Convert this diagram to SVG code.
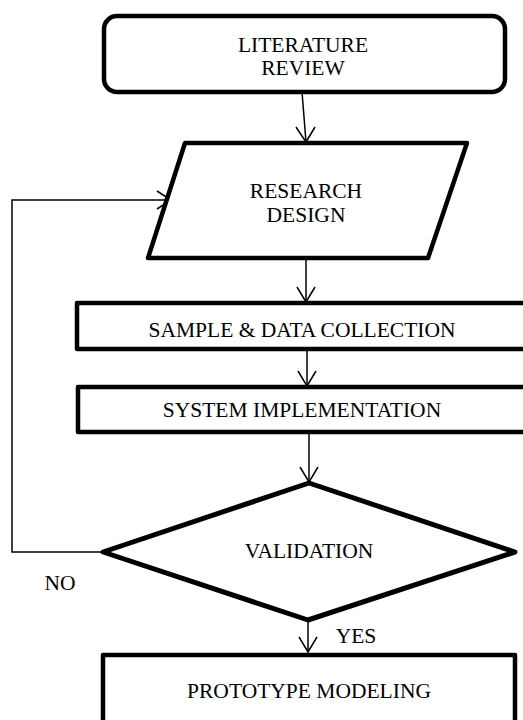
<svg xmlns="http://www.w3.org/2000/svg" width="523" height="720" viewBox="0 0 523 720">
<style>
.shape{fill:#fff;stroke:#000;stroke-width:4.5;stroke-linejoin:round}
.conn{fill:none;stroke:#000;stroke-width:1.5}
.head{fill:none;stroke:#000;stroke-width:1.5}
text{font-family:"Liberation Serif","Times New Roman",serif;font-size:21.5px;fill:#000;text-anchor:middle}
</style>
<rect width="523" height="720" fill="#fff"/>
<g id="connectors">
<path class="conn" d="M302,92 L306,142"/>
<path class="head" d="M296,127 L306,142 L315,127"/>
<path class="conn" d="M306,258 L306,302"/>
<path class="head" d="M297,287 L306,302 L315,287"/>
<path class="conn" d="M307,349 L307,386"/>
<path class="head" d="M298,371 L307,386 L316,371"/>
<path class="conn" d="M309,432 L309,482"/>
<path class="head" d="M300,467 L309,482 L318,467"/>
<path class="conn" d="M103,552 L12,552 L12,200 L171,200"/>
<path class="head" d="M157,191 L171,200 L157,209"/>
<path class="conn" d="M308,620 L308,652"/>
<path class="head" d="M299,637 L308,652 L317,637"/>
</g>
<g id="literature-review">
<rect class="shape" x="104" y="16" width="401" height="76" rx="13"/>
<text x="303" y="52">LITERATURE</text>
<text x="303" y="75">REVIEW</text>
</g>
<g id="research-design">
<polygon class="shape" points="185,143 467,143 428,258 148,258"/>
<text x="306" y="198">RESEARCH</text>
<text x="306" y="222">DESIGN</text>
</g>
<g id="sample-data-collection">
<rect class="shape" x="77" y="303" width="460" height="46"/>
<text x="302" y="337">SAMPLE &amp; DATA COLLECTION</text>
</g>
<g id="system-implementation">
<rect class="shape" x="78" y="387" width="460" height="45"/>
<text x="302" y="417">SYSTEM IMPLEMENTATION</text>
</g>
<g id="validation">
<polygon class="shape" points="309,483 515,552 308,620 103,552" style="stroke-width:5"/>
<text x="309" y="558">VALIDATION</text>
</g>
<g id="no-label"><text x="60" y="590">NO</text></g>
<g id="yes-label"><text x="356" y="643">YES</text></g>
<g id="prototype-modeling">
<rect class="shape" x="103" y="655" width="412" height="80"/>
<text x="309" y="698">PROTOTYPE MODELING</text>
</g>
</svg>
